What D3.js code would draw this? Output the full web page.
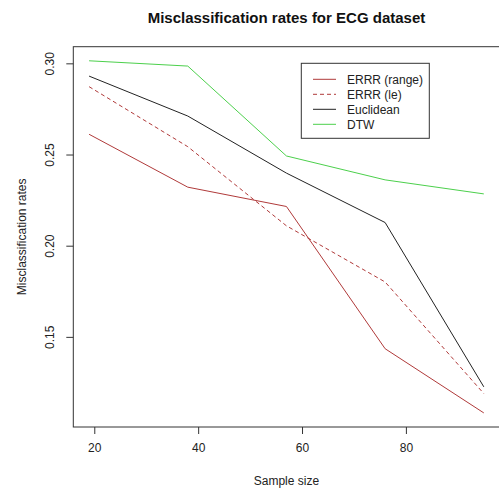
<!DOCTYPE html>
<html><head><meta charset="utf-8">
<script src="https://cdn.jsdelivr.net/npm/d3@7"></script>
<style>body{margin:0;background:#fff}svg{display:block}text{font-family:"Liberation Sans",Arial,sans-serif}</style>
</head><body><svg id="c" width="499" height="489"></svg>
<script>
const sampleSizes = [19, 38, 57, 76, 95];
const errrRange = [0.2611, 0.2321, 0.2215, 0.1435, 0.1083];
const errrLe = [0.2872, 0.2543, 0.2109, 0.1801, 0.1189];
const euclidean = [0.2930, 0.2711, 0.2398, 0.2127, 0.1226];
const dtw = [0.3014, 0.2985, 0.2492, 0.2361, 0.2284];
const seriesNames = ["ERRR (range)", "ERRR (le)", "Euclidean", "DTW"];
const xTicks = [20, 40, 60, 80];
const yTicks = [0.15, 0.20, 0.25, 0.30];

const series = [
  {name: seriesNames[0], values: errrRange, color: "#b03a3a", dash: null},
  {name: seriesNames[1], values: errrLe, color: "#b03a3a", dash: "4,3"},
  {name: seriesNames[2], values: euclidean, color: "#222", dash: null},
  {name: seriesNames[3], values: dtw, color: "#4cd04c", dash: null}
];

const svg = d3.select("#c");
const L = 73.3, R = 499.6, T = 46.7, B = 427;
const xr = d3.extent(sampleSizes), xp = (xr[1]-xr[0])*0.04;
const allY = [].concat(errrRange, errrLe, euclidean, dtw);
const yr = d3.extent(allY), yp = (yr[1]-yr[0])*0.04;
const x = d3.scaleLinear().domain([xr[0]-xp, xr[1]+xp]).range([L, R]);
const y = d3.scaleLinear().domain([yr[0]-yp, yr[1]+yp]).range([B, T]);

// box
svg.append("rect").attr("x", L).attr("y", T).attr("width", R-L).attr("height", B-T)
  .attr("fill", "none").attr("stroke", "#333").attr("stroke-width", 1);

// axes
const xa = svg.append("g").attr("transform", `translate(0,${B})`)
  .call(d3.axisBottom(x).tickValues(xTicks).tickSize(7).tickPadding(9).tickFormat(d3.format("d")));
xa.select(".domain").remove();
xa.selectAll("text").attr("font-size", 12).attr("fill", "#222").style("font-family", '"Liberation Sans",Arial,sans-serif');
xa.selectAll("line").attr("stroke", "#333");

const ya = svg.append("g").attr("transform", `translate(${L},0)`)
  .call(d3.axisLeft(y).tickValues(yTicks).tickSize(7).tickFormat(d3.format(".2f")));
ya.select(".domain").remove();
ya.selectAll("line").attr("stroke", "#333");
ya.selectAll("text").attr("font-size", 12).attr("fill", "#222")
  .style("font-family", '"Liberation Sans",Arial,sans-serif')
  .attr("text-anchor", "middle").attr("dy", null).attr("x", null)
  .attr("transform", d => `translate(-23,0) rotate(-90) translate(0,4)`);

// lines
const line = d3.line().x((d, i) => x(sampleSizes[i])).y(d => y(d));
series.forEach(s => {
  svg.append("path").datum(s.values).attr("d", line).attr("fill", "none")
    .attr("stroke", s.color).attr("stroke-width", 1)
    .attr("stroke-dasharray", s.dash);
});

// title & labels
svg.append("text").attr("x", (L+R)/2).attr("y", 23).attr("text-anchor", "middle")
  .attr("font-size", 15).attr("font-weight", "bold").attr("fill", "#111")
  .text("Misclassification rates for ECG dataset");
svg.append("text").attr("x", (L+R)/2).attr("y", 485).attr("text-anchor", "middle")
  .attr("font-size", 12).attr("fill", "#222").text("Sample size");
svg.append("text").attr("transform", `translate(26,${(T+B)/2}) rotate(-90)`).attr("text-anchor", "middle")
  .attr("font-size", 12).attr("fill", "#222").text("Misclassification rates");

// legend
const lg = svg.append("g");
lg.append("rect").attr("x", 301.3).attr("y", 63.3).attr("width", 128).attr("height", 75)
  .attr("fill", "#fff").attr("stroke", "#333").attr("stroke-width", 1);
series.forEach((s, i) => {
  const yy = 79.3 + i*15;
  lg.append("line").attr("x1", 313).attr("x2", 336).attr("y1", yy).attr("y2", yy)
    .attr("stroke", s.color).attr("stroke-width", 1).attr("stroke-dasharray", s.dash);
  lg.append("text").attr("x", 347).attr("y", yy + 4.5).attr("font-size", 12).attr("fill", "#222").text(s.name);
});
</script></body></html>
